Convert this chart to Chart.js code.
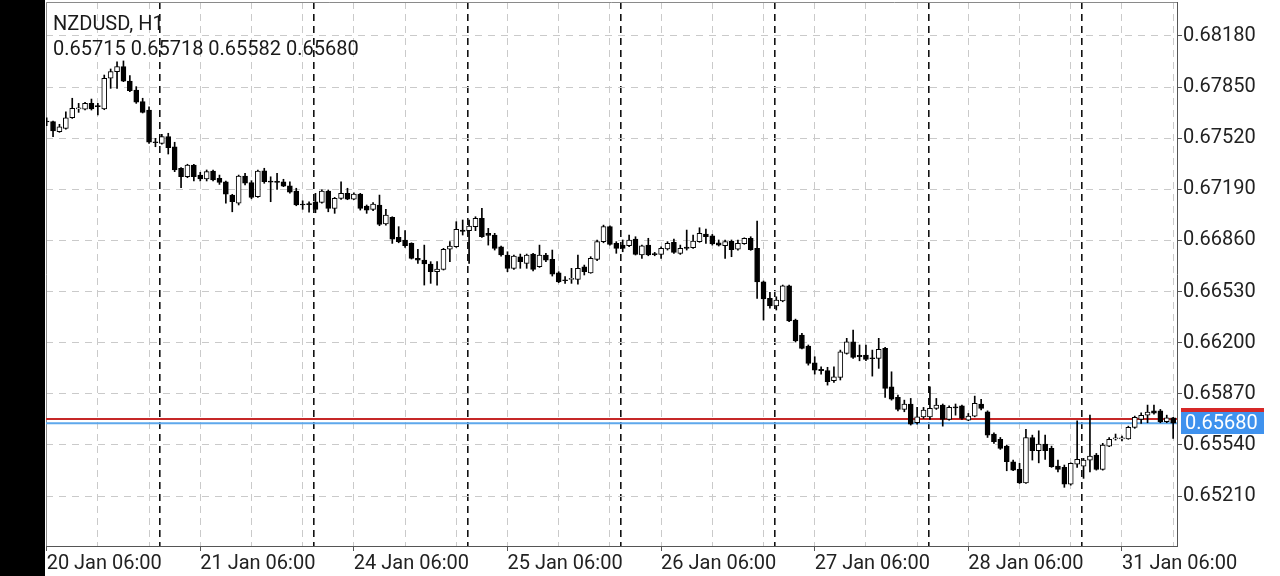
<!DOCTYPE html>
<html><head><meta charset="utf-8">
<script src="https://cdn.jsdelivr.net/npm/chart.js@4.4.1/dist/chart.umd.min.js"></script>
<style>
html,body{margin:0;padding:0;background:#fff;}
#wrap{position:relative;width:1280px;height:576px;overflow:hidden;background:#fff;}
#strip{position:absolute;left:0;top:0;width:45px;height:576px;background:#000;}
#c{position:absolute;left:0;top:0;}
.hdr{position:absolute;left:53px;font-family:Roboto;font-size:20px;line-height:24px;color:#1a1a1a;white-space:nowrap;}
</style></head>
<body>
<div id="wrap">
<div id="strip"></div>
<canvas id="c" width="1280" height="576"></canvas>
<div class="hdr" id="h1" style="top:11px"></div>
<div class="hdr" id="h2" style="top:36px"></div>
</div>
<script>
const symbolTitle = 'NZDUSD, H1';
const opens = [0.67631,0.67627,0.67562,0.67584,0.67652,0.67709,0.67707,0.67745,0.67730,0.67709,0.67907,0.67950,0.67982,0.67889,0.67831,0.67756,0.67702,0.67494,0.67487,0.67530,0.67465,0.67326,0.67271,0.67347,0.67282,0.67257,0.67308,0.67261,0.67239,0.67153,
0.67100,0.67276,0.67233,0.67142,0.67310,0.67242,0.67242,0.67239,0.67213,0.67179,0.67095,0.67095,0.67110,0.67106,0.67179,0.67067,0.67132,0.67164,0.67127,0.67160,0.67082,0.67061,0.67089,0.66966,0.67009,0.66880,0.66863,0.66841,0.66744,0.66733,
0.66708,0.66658,0.66673,0.66803,0.66819,0.66927,0.66923,0.66949,0.67003,0.66906,0.66895,0.66819,0.66766,0.66680,0.66755,0.66712,0.66772,0.66690,0.66766,0.66738,0.66651,0.66604,0.66609,0.66609,0.66690,0.66651,0.66738,0.66852,0.66949,0.66841,
0.66830,0.66826,0.66869,0.66766,0.66830,0.66772,0.66770,0.66805,0.66848,0.66777,0.66817,0.66813,0.66852,0.66901,0.66890,0.66845,0.66826,0.66856,0.66803,0.66839,0.66874,0.66809,0.66593,0.66486,0.66438,0.66469,0.66567,0.66346,0.66249,0.66178,
0.66070,0.66028,0.66019,0.65954,0.65976,0.66131,0.66206,0.66118,0.66120,0.66101,0.66099,0.66163,0.65915,0.65847,0.65769,0.65804,0.65683,0.65721,0.65721,0.65776,0.65797,0.65705,0.65786,0.65793,0.65700,0.65726,0.65804,0.65754,0.65610,0.65576,
0.65532,0.65431,0.65382,0.65295,0.65588,0.65502,0.65545,0.65517,0.65403,0.65395,0.65287,0.65416,0.65403,0.65442,0.65474,0.65382,0.65532,0.65579,0.65579,0.65579,0.65653,0.65705,0.65732,0.65760,0.65760,0.65690,0.65715];
const highs = [0.67652,0.67631,0.67610,0.67691,0.67778,0.67745,0.67752,0.67773,0.67745,0.67928,0.67967,0.68014,0.68019,0.67924,0.67853,0.67778,0.67723,0.67519,0.67545,0.67552,0.67494,0.67330,0.67352,0.67352,0.67300,0.67315,0.67315,0.67282,0.67244,0.67158,
0.67282,0.67293,0.67246,0.67315,0.67326,0.67271,0.67293,0.67255,0.67239,0.67197,0.67116,0.67110,0.67164,0.67186,0.67186,0.67138,0.67239,0.67197,0.67168,0.67164,0.67089,0.67104,0.67153,0.67061,0.67013,0.66949,0.66923,0.66845,0.66803,0.66830,
0.66723,0.66723,0.66809,0.66852,0.66981,0.66992,0.66992,0.67013,0.67067,0.66938,0.66906,0.66824,0.66787,0.66766,0.66772,0.66772,0.66777,0.66830,0.66777,0.66798,0.66658,0.66626,0.66680,0.66766,0.66701,0.66755,0.66863,0.66959,0.66955,0.66852,
0.66863,0.66895,0.66884,0.66830,0.66874,0.66783,0.66819,0.66852,0.66869,0.66830,0.66927,0.66895,0.66942,0.66934,0.66899,0.66863,0.66863,0.66863,0.66863,0.66877,0.66884,0.66985,0.66598,0.66525,0.66496,0.66572,0.66572,0.66352,0.66260,0.66185,
0.66109,0.66044,0.66041,0.66044,0.66152,0.66228,0.66281,0.66185,0.66185,0.66152,0.66228,0.66170,0.66012,0.65862,0.65829,0.65840,0.65782,0.65782,0.65915,0.65840,0.65804,0.65793,0.65804,0.65797,0.65743,0.65855,0.65834,0.65760,0.65618,0.65588,
0.65539,0.65442,0.65421,0.65640,0.65603,0.65631,0.65603,0.65532,0.65442,0.65410,0.65424,0.65696,0.65453,0.65732,0.65485,0.65550,0.65588,0.65610,0.65597,0.65661,0.65726,0.65747,0.65797,0.65797,0.65769,0.65732,0.65718];
const lows = [0.67601,0.67530,0.67558,0.67579,0.67648,0.67687,0.67702,0.67702,0.67670,0.67704,0.67842,0.67842,0.67885,0.67820,0.67745,0.67683,0.67487,0.67465,0.67481,0.67418,0.67304,0.67200,0.67265,0.67244,0.67244,0.67244,0.67244,0.67222,0.67100,0.67045,
0.67089,0.67218,0.67129,0.67138,0.67229,0.67110,0.67190,0.67207,0.67166,0.67084,0.67061,0.67042,0.67039,0.67100,0.67045,0.67035,0.67125,0.67123,0.67123,0.67056,0.67035,0.67052,0.66955,0.66959,0.66841,0.66845,0.66815,0.66740,0.66712,0.66572,
0.66583,0.66572,0.66669,0.66723,0.66815,0.66895,0.66712,0.66923,0.66880,0.66830,0.66798,0.66759,0.66658,0.66673,0.66680,0.66680,0.66664,0.66686,0.66723,0.66630,0.66587,0.66583,0.66583,0.66578,0.66637,0.66648,0.66729,0.66845,0.66830,0.66777,
0.66787,0.66819,0.66766,0.66744,0.66761,0.66761,0.66744,0.66798,0.66777,0.66770,0.66798,0.66809,0.66848,0.66841,0.66830,0.66824,0.66744,0.66755,0.66798,0.66835,0.66796,0.66486,0.66346,0.66422,0.66411,0.66464,0.66335,0.66204,0.66159,0.66055,
0.65997,0.65997,0.65926,0.65944,0.65959,0.66126,0.66099,0.66083,0.66083,0.65984,0.66034,0.65847,0.65829,0.65760,0.65754,0.65668,0.65674,0.65711,0.65705,0.65769,0.65661,0.65700,0.65732,0.65705,0.65696,0.65721,0.65765,0.65588,0.65550,0.65511,
0.65373,0.65373,0.65291,0.65291,0.65442,0.65424,0.65446,0.65395,0.65366,0.65266,0.65280,0.65395,0.65324,0.65366,0.65377,0.65377,0.65528,0.65571,0.65566,0.65576,0.65647,0.65679,0.65683,0.65739,0.65683,0.65683,0.65582];
const closes = [0.67625,0.67567,0.67594,0.67652,0.67713,0.67717,0.67745,0.67709,0.67723,0.67907,0.67950,0.67982,0.67889,0.67827,0.67752,0.67687,0.67494,0.67491,0.67530,0.67459,0.67315,0.67271,0.67347,0.67271,0.67257,0.67304,0.67250,0.67235,0.67158,0.67110,
0.67276,0.67229,0.67138,0.67308,0.67239,0.67237,0.67235,0.67211,0.67171,0.67089,0.67089,0.67091,0.67061,0.67179,0.67067,0.67132,0.67164,0.67127,0.67160,0.67067,0.67056,0.67095,0.66964,0.67024,0.66869,0.66852,0.66826,0.66744,0.66733,0.66708,
0.66658,0.66675,0.66803,0.66824,0.66932,0.66919,0.66953,0.67003,0.66884,0.66893,0.66809,0.66766,0.66680,0.66759,0.66723,0.66766,0.66673,0.66766,0.66733,0.66643,0.66593,0.66600,0.66613,0.66680,0.66658,0.66744,0.66852,0.66949,0.66835,0.66809,
0.66809,0.66863,0.66770,0.66826,0.66766,0.66768,0.66809,0.66841,0.66783,0.66809,0.66809,0.66856,0.66906,0.66884,0.66837,0.66830,0.66852,0.66800,0.66841,0.66874,0.66800,0.66593,0.66482,0.66438,0.66475,0.66567,0.66340,0.66212,0.66163,0.66066,
0.66023,0.66019,0.65948,0.65980,0.66141,0.66206,0.66105,0.66109,0.66092,0.66096,0.66157,0.65905,0.65836,0.65769,0.65804,0.65674,0.65721,0.65765,0.65776,0.65797,0.65705,0.65782,0.65778,0.65711,0.65726,0.65808,0.65776,0.65603,0.65560,0.65517,
0.65431,0.65377,0.65295,0.65588,0.65502,0.65545,0.65502,0.65399,0.65382,0.65287,0.65421,0.65446,0.65442,0.65468,0.65382,0.65539,0.65576,0.65582,0.65584,0.65653,0.65718,0.65731,0.65752,0.65745,0.65689,0.65714,0.65680];
const tickLabels = ['20 Jan 06:00','21 Jan 06:00','24 Jan 06:00','25 Jan 06:00','26 Jan 06:00','27 Jan 06:00','28 Jan 06:00','31 Jan 06:00'];
const dayStartIdx = [18,42,66,90,114,138,162];
const priceTicks = [0.65210,0.65540,0.65870,0.66200,0.66530,0.66860,0.67190,0.67520,0.67850,0.68180];
const bidPrice = 0.65680;
const askPrice = 0.65707;

const LABEL_EVERY = 24, GRID_EVERY = 8, SEP_SHIFT = 0.25;
const X_MIN = -0.1, X_MAX = 176.6;
const Y_MIN = 0.648872, Y_MAX = 0.683995;

document.getElementById('h1').textContent = symbolTitle;
document.getElementById('h2').textContent = [opens, highs, lows, closes].map(a => a[a.length-1].toFixed(5)).join(' ');

const idx = opens.map((_, i) => i);
const bodies = idx.map(i => ({x: i, y: [opens[i], closes[i]]}));
const wicks = idx.map(i => ({x: i, y: [lows[i], highs[i]]}));
const isSep = v => Math.abs(v - Math.round(v)) > 0.01;
const isLbl = v => Math.abs(v % LABEL_EVERY) < 1e-6;

Chart.defaults.font.family = 'Roboto';
Chart.defaults.color = '#222';

const framePlugin = {
  id: 'frame',
  beforeDatasetsDraw(chart) {
    const {ctx, chartArea: a} = chart;
    ctx.save();
    ctx.strokeStyle = '#8a8a8a';
    ctx.lineWidth = 1;
    ctx.beginPath();
    ctx.moveTo(a.left + 0.5, a.bottom);
    ctx.lineTo(a.left + 0.5, a.top + 0.5);
    ctx.lineTo(a.right, a.top + 0.5);
    ctx.stroke();
    ctx.restore();
  },
  afterDraw(chart) {
    const {ctx, chartArea: a, scales} = chart;
    const ya = scales.y.getPixelForValue(askPrice);
    const yb = scales.y.getPixelForValue(bidPrice);
    ctx.save();
    ctx.fillStyle = '#d62828';
    ctx.fillRect(a.right + 4, Math.round(ya) - 11, 83, 22);
    ctx.fillStyle = '#3f92ee';
    ctx.fillRect(a.right + 4, Math.round(yb) - 11, 83, 22);
    ctx.fillStyle = '#ffffff';
    ctx.font = '20px Roboto';
    ctx.textBaseline = 'middle';
    ctx.textAlign = 'left';
    ctx.fillText(bidPrice.toFixed(5), a.right + 8, Math.round(yb) + 1);
    ctx.restore();
  }
};

const noPad = s => { s.paddingTop = 0; s.paddingBottom = 0; s.paddingLeft = 0; s.paddingRight = 0; };

new Chart(document.getElementById('c'), {
  type: 'bar',
  data: {
    datasets: [
      {
        label: 'body', data: bodies, order: 0, grouped: false,
        barThickness: 5, minBarLength: 1, borderSkipped: false, borderWidth: 1,
        borderColor: '#000',
        backgroundColor: c => closes[c.dataIndex] > opens[c.dataIndex] ? '#ffffff' : '#000000'
      },
      {
        label: 'wick', data: wicks, order: 1, grouped: false,
        barThickness: 1, minBarLength: 1, borderWidth: 0, backgroundColor: '#000'
      },
      {
        type: 'line', label: 'ask', order: 2,
        data: [{x: X_MIN, y: askPrice}, {x: X_MAX, y: askPrice}],
        borderColor: '#c62828', borderWidth: 2, pointRadius: 0
      },
      {
        type: 'line', label: 'bid', order: 3,
        data: [{x: X_MIN, y: bidPrice}, {x: X_MAX, y: bidPrice}],
        borderColor: '#5ea8ec', borderWidth: 2, pointRadius: 0
      }
    ]
  },
  options: {
    responsive: false, animation: false, events: [],
    layout: {padding: {left: 46, top: 2, right: 0, bottom: 0}},
    plugins: {legend: {display: false}, tooltip: {enabled: false}},
    scales: {
      x: {
        type: 'linear', position: 'bottom', min: X_MIN, max: X_MAX, offset: false,
        afterFit: s => { s.height = 30; noPad(s); },
        afterBuildTicks: s => {
          const t = [];
          for (let v = 0; v <= 176; v += GRID_EVERY) t.push({value: v});
          dayStartIdx.forEach(d => t.push({value: d - SEP_SHIFT}));
          t.sort((a, b) => a.value - b.value);
          s.ticks = t;
        },
        ticks: {
          autoSkip: false, maxRotation: 0, minRotation: 0, align: 'start', padding: 3,
          font: {size: 20, lineHeight: 1.0}, color: '#222',
          callback: v => isLbl(v) ? tickLabels[Math.round(v / LABEL_EVERY)] : ''
        },
        grid: {
          display: true, offset: false, drawOnChartArea: true, drawTicks: true, tickLength: 5,
          color: c => (c.tick && isSep(c.tick.value)) ? '#111111' : '#cacaca',
          lineWidth: c => (c.tick && isSep(c.tick.value)) ? 1.6 : 1,
          tickColor: c => (c.tick && isLbl(c.tick.value)) ? '#555' : 'rgba(0,0,0,0)'
        },
        border: {display: true, color: '#555', width: 1, dash: [7, 5]}
      },
      y: {
        type: 'linear', position: 'right', min: Y_MIN, max: Y_MAX,
        afterFit: s => { s.width = 103; noPad(s); },
        afterBuildTicks: s => { s.ticks = priceTicks.map(v => ({value: v})); },
        ticks: {
          autoSkip: false, padding: 1, font: {size: 20}, color: '#222',
          callback: v => Number(v).toFixed(5)
        },
        grid: {color: '#cacaca', lineWidth: 1, offset: false, drawTicks: true, tickLength: 5, tickColor: '#555'},
        border: {display: true, color: '#555', width: 1, dash: [7, 6]}
      }
    }
  },
  plugins: [framePlugin]
});
</script>
</body></html>
